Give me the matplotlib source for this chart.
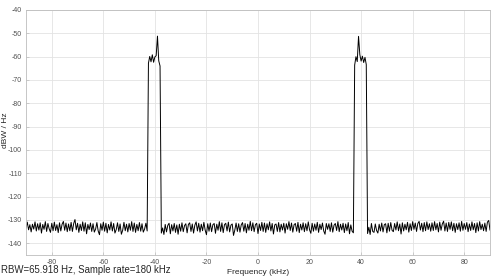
import numpy as np
from matplotlib import pyplot as plt

plt.rcParams['font.family'] = ['Liberation Sans', 'DejaVu Sans']
plt.rcParams['axes.unicode_minus'] = False

# spectrum levels (dBW/Hz), one value per 0.5 kHz bin from -90 kHz to 90 kHz
left_floor = [
    -133.5, -130.9, -134.2, -132.0, -135.1, -131.8, -133.9, -130.8, -134.7, -131.6,
    -134.3, -131.2, -135.6, -131.9, -134.0, -130.7, -134.9, -131.5, -133.8, -135.3,
    -131.4, -134.6, -130.9, -134.5, -132.0, -135.4, -131.2, -134.7, -131.8, -130.6,
    -134.4, -131.3, -135.0, -131.7, -134.6, -131.0, -134.9, -131.5, -129.8, -134.2,
    -131.4, -135.3, -131.8, -134.5, -130.8, -134.8, -131.2, -135.9, -131.9, -134.1,
    -131.3, -134.9, -131.6, -135.2, -133.9, -131.1, -134.7, -136.3, -131.6, -134.4,
    -130.9, -134.8, -131.4, -135.5, -131.9, -134.3, -130.8, -134.7, -131.5, -135.6,
    -134.1, -131.2, -134.9, -131.7, -136.1, -134.4, -131.0, -134.6, -131.8, -135.1,
    -131.5, -134.4, -130.7, -134.9, -131.3, -135.3, -131.9, -134.6, -131.1, -134.8,
    -131.6, -135.2, -133.9, -131.4, -134.7,
]
left_band = [-62.8, -59.9, -62.2, -59.2, -62.4, -60.1, -59.6, -51.2, -61.8, -64.0]
mid_floor = [
    -135.6, -133.4, -136.2, -131.9, -135.1, -132.3, -131.4, -135.9, -132.0, -134.7,
    -131.5, -135.3, -132.1, -136.1, -131.8, -134.8, -131.2, -135.0, -132.4, -131.6,
    -135.5, -131.9, -131.2, -134.9, -131.7, -135.6, -132.2, -130.8, -134.7, -131.4,
    -135.2, -131.8, -134.6, -131.0, -134.3, -136.3, -131.6, -134.8, -131.3, -135.0,
    -132.0, -131.5, -135.7, -131.8, -134.4, -130.7, -134.9, -131.2, -135.4, -132.0,
    -131.4, -134.7, -130.9, -135.1, -132.2, -131.7, -136.6, -134.3, -131.3, -134.9,
    -131.6, -135.2, -132.1, -131.1, -134.8, -131.5, -135.5, -131.8, -134.4, -130.6,
    -134.6, -131.2, -135.0, -132.0, -131.4, -135.8, -131.7, -134.5, -131.0, -134.9,
    -131.3, -135.3, -131.6, -134.2, -130.8, -134.7, -131.5, -136.0, -132.1, -131.7,
    -134.9, -131.1, -135.1, -131.8, -134.3, -131.4, -135.6, -131.6, -134.0, -130.7,
    -134.5, -131.3, -135.2, -132.0, -131.5, -134.8, -131.0, -135.4, -131.8, -134.3,
    -131.2, -135.0, -131.6, -134.6, -130.8, -134.2, -135.7, -131.4, -134.8, -131.7,
    -134.4, -131.0, -135.3, -131.8, -134.1, -131.3, -134.7, -136.1, -131.5, -134.0,
    -131.6, -134.9, -131.2, -135.2, -132.2, -131.5, -134.5, -130.7, -135.0, -131.8,
    -134.3, -131.4, -135.4, -131.7, -134.6, -131.1, -135.9, -132.1, -134.8, -135.5,
]
right_band = [-63.6, -60.0, -62.1, -51.3, -59.1, -61.9, -59.8, -62.5, -60.3, -63.4]
right_floor = [
    -135.8, -133.1, -136.2, -131.5, -134.9, -135.3, -131.7, -134.5, -135.6, -131.8,
    -134.7, -131.3, -135.1, -132.0, -131.6, -135.5, -131.4, -134.8, -131.1, -134.4,
    -135.0, -131.5, -134.3, -130.8, -134.6, -131.7, -136.0, -131.2, -134.7, -131.8,
    -134.2, -131.0, -135.2, -131.6, -134.5, -130.7, -134.0, -131.3, -134.9, -131.5,
    -130.6, -134.3, -131.4, -135.0, -131.1, -134.6, -130.8, -134.1, -131.6, -134.8,
    -131.2, -134.5, -130.7, -134.2, -131.5, -135.1, -130.9, -134.4, -131.7, -130.5,
    -134.7, -131.3, -134.9, -131.0, -134.0, -130.8, -134.6, -131.4, -135.3, -131.6,
    -134.1, -131.2, -134.8, -130.6, -134.4, -131.5, -134.0, -131.1, -135.0, -131.7,
    -134.5, -130.8, -134.2, -131.5, -135.4, -131.2, -134.7, -130.7, -134.1, -131.8,
    -134.6, -131.3, -134.9, -130.9, -130.2, -134.3,
]

levels = np.array(left_floor + left_band + mid_floor + right_band + right_floor)
freq_khz = -90 + 0.5 * np.arange(len(levels))

x_ticks = [-80, -60, -40, -20, 0, 20, 40, 60, 80]
y_ticks = [-140, -130, -120, -110, -100, -90, -80, -70, -60, -50, -40]

fig = plt.figure(figsize=(5, 2.78), dpi=100)
ax = fig.add_axes([26/500, 1-255/278, 464/500, 245/278])

ax.plot(freq_khz, levels, color='black', linewidth=0.7)

ax.set_xlim(-90, 90)
ax.set_ylim(-145, -40)
ax.set_xticks(x_ticks)
ax.set_yticks(y_ticks)
ax.grid(True, color='#e3e3e3', linewidth=0.6)
ax.set_axisbelow(True)
ax.tick_params(axis='both', direction='in', length=2, width=0.5,
               labelsize=5, colors='#bdbdbd', labelcolor='#505050', pad=3)
for s in ax.spines.values():
    s.set_color('#bdbdbd')
    s.set_linewidth(0.6)

ax.set_xlabel('Frequency (kHz)', fontsize=6, color='#262626', labelpad=2)
ax.set_ylabel('dBW / Hz', fontsize=6, color='#262626')
ax.yaxis.set_label_coords(-0.036, 0.51)
fig.text(0.002, 0.012, 'RBW=65.918 Hz, Sample rate=180 kHz', fontsize=6.9,
         color='#262626', ha='left', va='bottom')

fig.savefig('out.png', dpi=100)
